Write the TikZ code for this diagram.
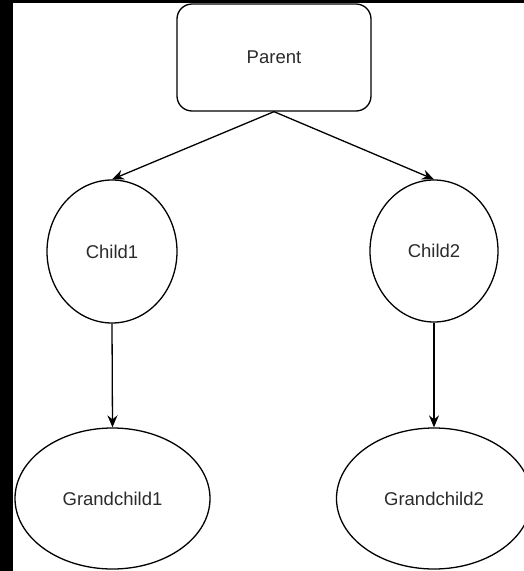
\documentclass[tikz,border=0pt]{standalone}
\usepackage{fontspec}
\setmainfont{Liberation Sans}
\usetikzlibrary{shapes.geometric,arrows.meta}
\definecolor{txt}{HTML}{2B2B2B}
\begin{document}
\begin{tikzpicture}[x=1pt,y=-1pt,
  every node/.style={font=\fontsize{18.5}{20}\selectfont, text=txt},
  box/.style={draw=black, line width=1.3pt, rounded corners=15pt, fill=white,
    minimum width=194pt, minimum height=107pt, inner sep=0pt},
  oval/.style={draw=black, line width=1.3pt, ellipse, fill=white, inner sep=0pt},
  link/.style={draw=black, line width=1.3pt, -{Stealth[length=12pt,width=10pt,inset=4pt]}}]
\useasboundingbox (0,0) rectangle (524,571);
\clip (0,0) rectangle (524,571);
\fill[white] (0,0) rectangle (524,571);
\fill[black] (0,0) rectangle (13,571);
\fill[black] (0,0) rectangle (524,3);
\node[box] (p) at (274,57.5) {Parent};
\node[oval, minimum width=130pt, minimum height=143pt] (c1) at (112,251.5) {Child1};
\node[oval, minimum width=128pt, minimum height=142pt] (c2) at (434,251) {Child2};
\node[oval, minimum width=195pt, minimum height=141pt] (g1) at (112.5,498.5) {Grandchild1};
\node[oval, minimum width=195pt, minimum height=141pt] (g2) at (434,498.5) {Grandchild2};
\draw[link] (p.south) -- (c1.north);
\draw[link] (p.south) -- (c2.north);
\draw[link] (c1.south) -- (g1.north);
\draw[link] (c2.south) -- (g2.north);
\end{tikzpicture}
\end{document}
